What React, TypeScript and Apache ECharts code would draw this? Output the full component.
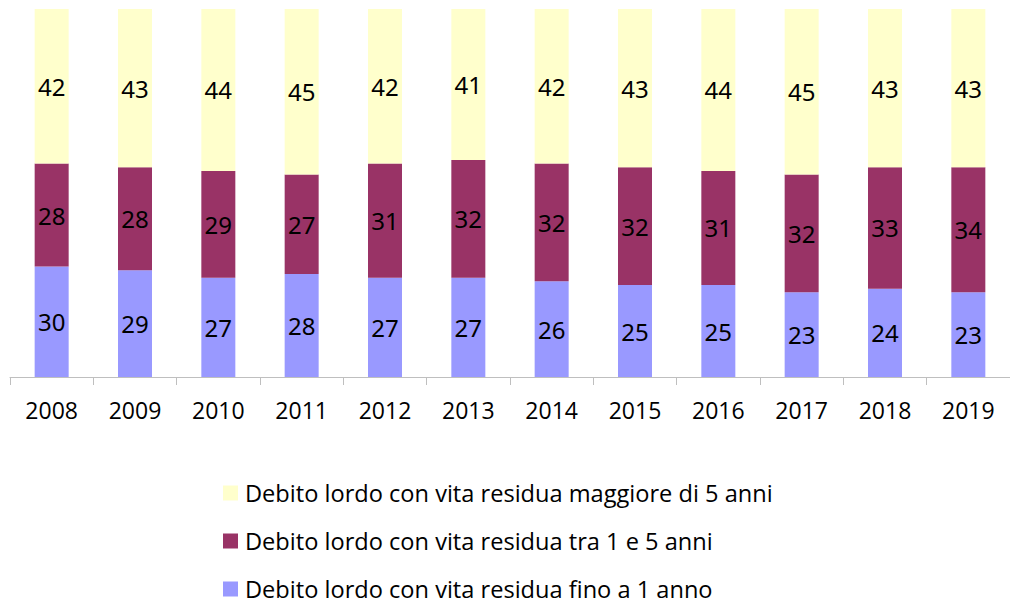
import React, { useEffect, useRef } from "react";
import * as echarts from "echarts";

const years = ["2008", "2009", "2010", "2011", "2012", "2013", "2014", "2015", "2016", "2017", "2018", "2019"];
const fino1 = [30, 29, 27, 28, 27, 27, 26, 25, 25, 23, 24, 23];
const tra1e5 = [28, 28, 29, 27, 31, 32, 32, 32, 31, 32, 33, 34];
const oltre5 = [42, 43, 44, 45, 42, 41, 42, 43, 44, 45, 43, 43];

const nameOltre = "Debito lordo con vita residua maggiore di 5 anni";
const nameTra = "Debito lordo con vita residua tra 1 e 5 anni";
const nameFino = "Debito lordo con vita residua fino a 1 anno";

const labelFont = "Noto Sans";
const textFont = "Open Sans";

export default function App() {
  const ref = useRef<HTMLDivElement>(null);
  useEffect(() => {
    if (!ref.current) return;
    const chart = echarts.init(ref.current, null, { renderer: "svg" });
    const lbl = {
      show: true,
      position: "inside",
      color: "#000",
      fontSize: 24,
      fontFamily: labelFont,
    };
    chart.setOption({
      animation: false,
      grid: { left: 10, right: 0, top: 9, bottom: 223, containLabel: false },
      xAxis: {
        type: "category",
        data: years,
        axisLine: { show: true, lineStyle: { color: "#BFBFBF", width: 1 } },
        axisTick: { show: true, length: 8, lineStyle: { color: "#BFBFBF" } },
        axisLabel: { color: "#000", fontSize: 23, fontFamily: textFont, margin: 21 },
      },
      yAxis: {
        type: "value",
        min: 0,
        max: 100,
        show: false,
        splitLine: { show: false },
      },
      legend: {
        orient: "vertical",
        left: 223,
        top: 481,
        height: 160,
        padding: 0,
        itemWidth: 15,
        itemHeight: 15,
        itemGap: 24,
        icon: "rect",
        data: [nameOltre, nameTra, nameFino],
        textStyle: { color: "#000", fontSize: 23.6, fontFamily: textFont, lineHeight: 22, padding: [0, 0, 0, 2] },
      },
      series: [
        { name: nameFino, type: "bar", stack: "a", data: fino1, barWidth: 34, itemStyle: { color: "#9999FF" }, label: lbl },
        { name: nameTra, type: "bar", stack: "a", data: tra1e5, barWidth: 34, itemStyle: { color: "#993366" }, label: lbl },
        { name: nameOltre, type: "bar", stack: "a", data: oltre5, barWidth: 34, itemStyle: { color: "#FFFFCC" }, label: lbl },
      ],
    });
    return () => chart.dispose();
  }, []);
  return <div ref={ref} style={{ width: 1010, height: 600, position: "absolute", left: 0, top: 0 }} />;
}
